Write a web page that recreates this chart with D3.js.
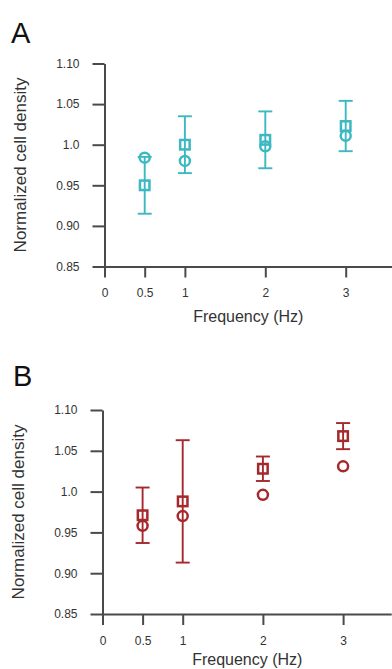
<!DOCTYPE html>
<html>
<head>
<meta charset="utf-8">
<script src="https://cdn.jsdelivr.net/npm/d3@7"></script>
<style>
  html, body { margin: 0; padding: 0; background: #fff; }
  svg { display: block; font-family: "Liberation Sans", Arial, sans-serif; }
</style>
</head>
<body>
<div id="chart"></div>
<script>
// Data
const freqs = [0.5, 1, 2, 3];
const xTicks = [0, 0.5, 1, 2, 3];
const xTickLabels = ["0", "0.5", "1", "2", "3"];
const yTicks = [0.85, 0.90, 0.95, 1.0, 1.05, 1.10];
const yTickLabels = ["0.85", "0.90", "0.95", "1.0", "1.05", "1.10"];

// Panel A (teal)
const aSquareMean = [0.950, 1.000, 1.006, 1.023];
const aSquareErr = [0.035, 0.035, 0.035, 0.031];
const aCircle = [0.984, 0.980, 0.998, 1.011];

// Panel B (red)
const bSquareMean = [0.971, 0.988, 1.028, 1.068];
const bSquareErr = [0.034, 0.075, 0.015, 0.016];
const bCircle = [0.958, 0.970, 0.996, 1.031];

const W = 392, H = 669;
const axisColor = "#4a4a4a";
const textColor = "#333333";

const svg = d3.select("#chart")
    .append("svg")
    .attr("width", W)
    .attr("height", H);

function drawPanel(p) {
    const g = svg.append("g");

    const x = d3.scaleLinear()
        .domain([0, 3.6])
        .range([p.left, p.left + 3.6 * p.perHz]);

    const y = d3.scaleLinear()
        .domain([0.85, 1.10])
        .range([p.bottom, p.top]);

    // Panel letter
    g.append("text")
        .attr("x", p.letterX)
        .attr("y", p.letterY)
        .style("font-size", "29px")
        .style("fill", "#111")
        .text(p.letter);

    // Y axis
    const yAxis = g.append("g")
        .attr("transform", "translate(" + p.left + ",0)")
        .call(d3.axisLeft(y)
            .tickValues(yTicks)
            .tickFormat((d, i) => yTickLabels[i])
            .tickSize(12)
            .tickSizeOuter(0)
            .tickPadding(13));

    // X axis
    const xAxis = g.append("g")
        .attr("transform", "translate(0," + p.bottom + ")")
        .call(d3.axisBottom(x)
            .tickValues(xTicks)
            .tickFormat((d, i) => xTickLabels[i])
            .tickSize(11)
            .tickSizeOuter(0)
            .tickPadding(11));

    [yAxis, xAxis].forEach(ax => {
        ax.attr("color", textColor);
        ax.select(".domain")
            .attr("stroke", axisColor)
            .attr("stroke-width", 2);
        ax.selectAll(".tick line")
            .attr("stroke", axisColor)
            .attr("stroke-width", 2);
        ax.selectAll(".tick text")
            .attr("fill", textColor)
            .style("font-size", "12px")
            .style("font-family", "'Liberation Sans', Arial, sans-serif");
    });

    // Axis titles
    g.append("text")
        .attr("x", (p.left + W) / 2)
        .attr("y", p.bottom + p.xTitleDy)
        .attr("text-anchor", "middle")
        .style("font-size", "16px")
        .style("fill", textColor)
        .text("Frequency (Hz)");

    g.append("text")
        .attr("transform", "translate(" + p.titleX + "," + ((p.top + p.bottom) / 2) + ") rotate(-90)")
        .attr("text-anchor", "middle")
        .style("font-size", "17px")
        .style("fill", textColor)
        .text("Normalized cell density");

    // Error bars for square series
    const capHalf = 7;
    const bars = g.append("g")
        .attr("stroke", p.color)
        .attr("stroke-width", 1.9)
        .attr("fill", "none");

    freqs.forEach((f, i) => {
        const lo = y(p.sqMean[i] - p.sqErr[i]);
        const hi = y(p.sqMean[i] + p.sqErr[i]);
        bars.append("line")
            .attr("x1", x(f)).attr("x2", x(f))
            .attr("y1", lo).attr("y2", hi);
        bars.append("line")
            .attr("x1", x(f) - capHalf).attr("x2", x(f) + capHalf)
            .attr("y1", lo).attr("y2", lo);
        bars.append("line")
            .attr("x1", x(f) - capHalf).attr("x2", x(f) + capHalf)
            .attr("y1", hi).attr("y2", hi);
    });

    // Circle series
    g.append("g")
        .selectAll("circle")
        .data(p.circ)
        .enter()
        .append("circle")
        .attr("cx", (d, i) => x(freqs[i]))
        .attr("cy", d => y(d))
        .attr("r", 5)
        .attr("fill", "none")
        .attr("stroke", p.color)
        .attr("stroke-width", 2.5);

    // Square series
    const s = 9.5;
    g.append("g")
        .selectAll("rect")
        .data(p.sqMean)
        .enter()
        .append("rect")
        .attr("x", (d, i) => x(freqs[i]) - s / 2)
        .attr("y", d => y(d) - s / 2)
        .attr("width", s)
        .attr("height", s)
        .attr("fill", "none")
        .attr("stroke", p.color)
        .attr("stroke-width", 2.5);
}

drawPanel({
    letter: "A", letterX: 11, letterY: 43,
    left: 104.5, perHz: 80.4, top: 63.5, bottom: 266.5, titleX: 26, xTitleDy: 55,
    color: "#3cb8c2",
    sqMean: aSquareMean, sqErr: aSquareErr, circ: aCircle
});

drawPanel({
    letter: "B", letterX: 13, letterY: 386,
    left: 102.5, perHz: 80.2, top: 410, bottom: 614, titleX: 24, xTitleDy: 51,
    color: "#a5282c",
    sqMean: bSquareMean, sqErr: bSquareErr, circ: bCircle
});
</script>
</body>
</html>
